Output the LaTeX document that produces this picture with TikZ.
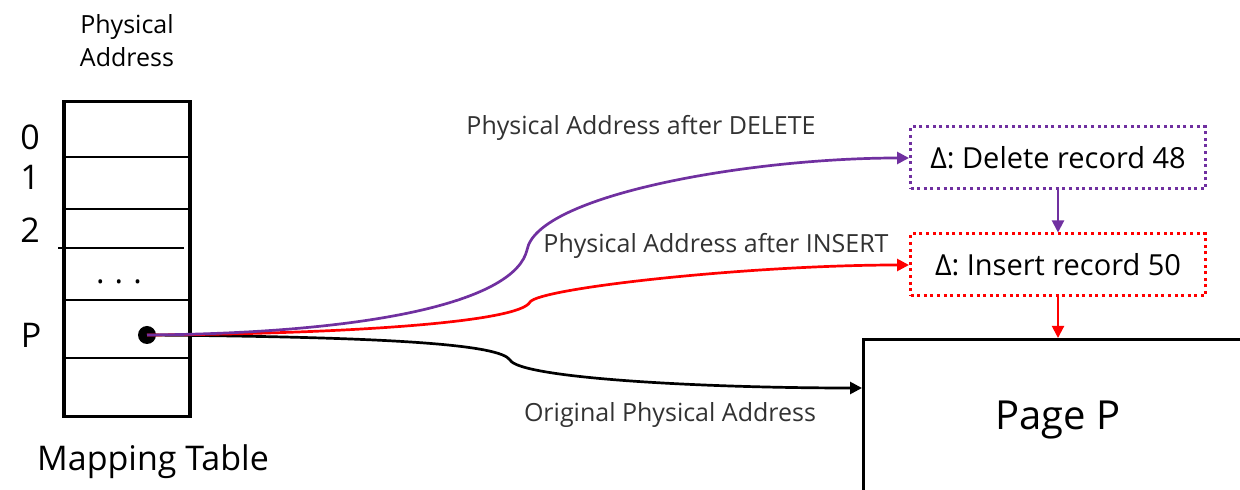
\documentclass[tikz,border=0pt]{standalone}
\usepackage{fontspec}
\setmainfont{Open Sans}
\usetikzlibrary{arrows.meta}
\definecolor{delpurple}{RGB}{112,48,160}
\definecolor{insred}{RGB}{255,0,0}
\definecolor{lbl}{RGB}{50,50,50}
\tikzset{
  tbl/.style={line width=1.75pt},
  row/.style={line width=0.75pt},
  curve/.style={line width=1.35pt,-{Triangle[length=6pt,width=6pt]}},
  vert/.style={line width=1pt,-{Triangle[length=6pt,width=6pt]}},
  dbox/.style={line width=1.5pt,dash pattern=on 1.5pt off 1.8pt,minimum width=147.5pt,minimum height=31pt,inner sep=0pt,font=\fontsize{14.5}{17}\selectfont},
  lab/.style={font=\fontsize{12.5}{14}\selectfont,text=lbl,inner sep=0pt},
  idx/.style={font=\fontsize{17}{19}\selectfont,inner sep=0pt},
}
\begin{document}
\begin{tikzpicture}[x=0.5pt,y=-0.5pt]
\useasboundingbox (0,0) rectangle (1240,490);
\clip (0,0) rectangle (1240,490);
% header
\node[font=\fontsize{12.5}{16.5}\selectfont,align=center,inner sep=0pt] (hdr) at (127,41) {Physical\\Address};
% table
\node[tbl,draw,minimum width=63pt,minimum height=157.5pt,anchor=north west,inner sep=0pt] (tab) at (62,100) {};
\draw[row] (62,157) -- (188,157);
\draw[row] (62,209) -- (188,209);
\draw[row] (58,248) -- (184,248);
\draw[row] (62,300) -- (188,300);
\draw[row] (62,358) -- (188,358);
\node[idx] (i0) at (30,137) {0};
\node[idx] (i1) at (30,177) {1};
\node[idx] (i2) at (30,230) {2};
\node[idx] (iP) at (31,335) {P};
\node[font=\fontsize{16}{18}\selectfont,inner sep=0pt] (dots) at (119,282) {.\hspace{5pt}.\hspace{5pt}.};
\fill (147,335) circle (4.5pt);
\coordinate (dot) at (147,335);
\node[font=\fontsize{17}{19}\selectfont,inner sep=0pt] (mt) at (153,462) {Mapping Table};
% delta boxes
\node[dbox,draw=delpurple] (del) at (1058,158) {Δ: Delete record 48};
\node[dbox,draw=insred] (ins) at (1058,265) {Δ: Insert record 50};
% page
\node[draw,line width=1.6pt,minimum width=200pt,minimum height=100pt,anchor=north west,inner sep=0pt] (page) at (862,338) {};
\node[font=\fontsize{20}{24}\selectfont,inner sep=0pt] (pagelbl) at (1058,420) {Page P};
% vertical arrows
\draw[vert,delpurple] (del.south) -- (ins.north);
\draw[vert,insred] (ins.south) -- (ins.south |- page.north);
% curves
\draw[curve,black] (dot) .. controls (400,337) and (500,345) .. (510,360) .. controls (520,378) and (700,388) .. (page.west |- 0,388);
\draw[curve,insred] (dot) .. controls (350,334) and (520,322) .. (530,302) .. controls (540,288) and (750,265) .. (ins.west);
\draw[curve,delpurple] (dot) .. controls (380,333) and (515,300) .. (527,250) .. controls (537,195) and (750,158) .. (del.west);
% labels
\node[lab] (l1) at (641,128) {Physical Address after DELETE};
\node[lab] (l2) at (716,246) {Physical Address after INSERT};
\node[lab] (l3) at (670,415) {Original Physical Address};
\end{tikzpicture}
\end{document}
